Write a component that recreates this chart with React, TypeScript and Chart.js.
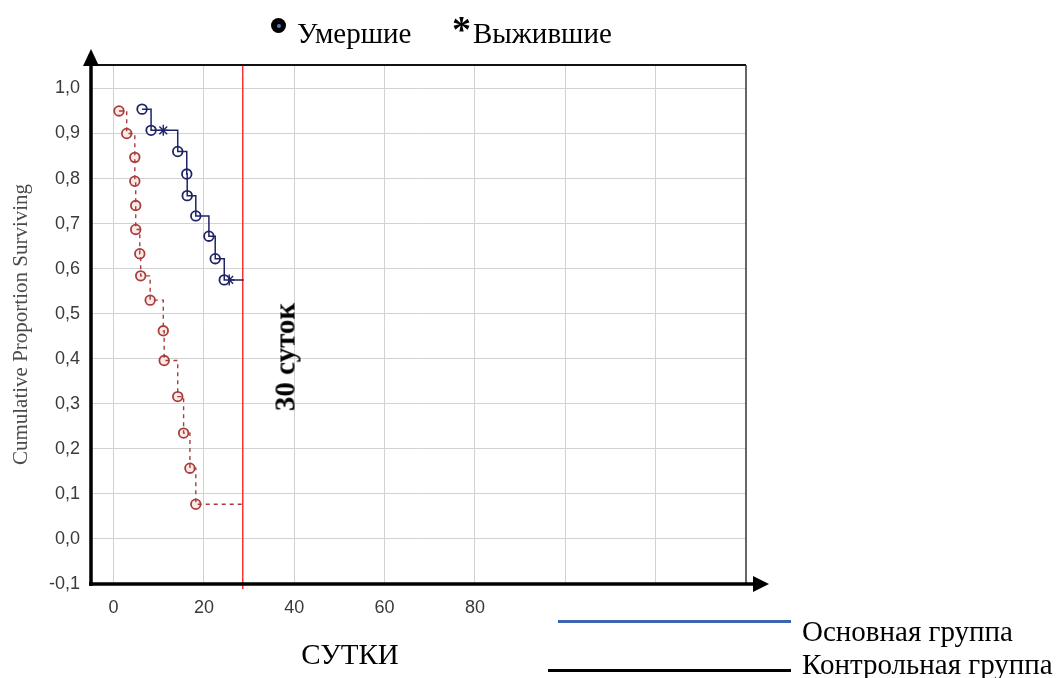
import React, { useEffect, useRef } from "react";
import { Chart, registerables } from "chart.js";

Chart.register(...registerables);

// ---- data ----
const mainDeathDays = [6.3, 8.3, 14.2, 16.2, 16.3, 18.2, 21.1, 22.5, 24.5];
const mainDeathSurvival = [0.954, 0.907, 0.86, 0.81, 0.762, 0.717, 0.672, 0.622, 0.575];
const mainCensorDays = [11.0, 25.6];
const mainCensorSurvival = [0.907, 0.575];

const controlDeathDays = [1.2, 2.9, 4.7, 4.7, 4.9, 4.9, 5.8, 6.0, 8.1, 11.0, 11.2, 14.2, 15.5, 16.9, 18.2];
const controlDeathSurvival = [0.95, 0.9, 0.847, 0.794, 0.74, 0.687, 0.633, 0.584, 0.53, 0.462, 0.396, 0.316, 0.235, 0.157, 0.077];

const followUpEndDay = 28.8;
const cutoffDay = 28.6;

const xTickValues = [0, 20, 40, 60, 80, 100, 120];
const xTickLabels = ["0", "20", "40", "60", "80", "", ""];
const yTickValues = [-0.1, 0, 0.1, 0.2, 0.3, 0.4, 0.5, 0.6, 0.7, 0.8, 0.9, 1.0];
const yTickLabels = ["-0,1", "0,0", "0,1", "0,2", "0,3", "0,4", "0,5", "0,6", "0,7", "0,8", "0,9", "1,0"];

const xMin = -5;
const xMax = 140;
const yMin = -0.1;
const yMax = 1.052;

const NAVY = "#1f2466";
const BROWN = "#a63f3b";

function pts(xs: number[], ys: number[]) {
  return xs.map((x, i) => ({ x, y: ys[i] }));
}

function pathWithEnd(xs: number[], ys: number[], end: number) {
  const p = pts(xs, ys);
  p.push({ x: end, y: ys[ys.length - 1] });
  return p;
}

const framePlugin = {
  id: "kmFrame",
  beforeDatasetsDraw(chart: any) {
    const { ctx, chartArea: a, scales } = chart;
    const x = scales.x.getPixelForValue(cutoffDay);
    ctx.save();
    ctx.strokeStyle = "#ff1414";
    ctx.lineWidth = 1.3;
    ctx.beginPath();
    ctx.moveTo(x, a.top);
    ctx.lineTo(x, a.bottom + 5);
    ctx.stroke();
    ctx.restore();
  },
  afterDraw(chart: any) {
    const { ctx, chartArea: a } = chart;
    ctx.save();
    // top frame
    ctx.strokeStyle = "#111";
    ctx.lineWidth = 2;
    ctx.beginPath();
    ctx.moveTo(a.left, a.top);
    ctx.lineTo(a.right, a.top);
    ctx.stroke();
    // right frame
    ctx.strokeStyle = "#333";
    ctx.lineWidth = 1.5;
    ctx.beginPath();
    ctx.moveTo(a.right, a.top);
    ctx.lineTo(a.right, a.bottom);
    ctx.stroke();
    // x axis with arrow
    ctx.strokeStyle = "#000";
    ctx.fillStyle = "#000";
    ctx.lineWidth = 3.5;
    ctx.beginPath();
    ctx.moveTo(a.left - 2, a.bottom);
    ctx.lineTo(a.right + 8, a.bottom);
    ctx.stroke();
    ctx.beginPath();
    ctx.moveTo(a.right + 7, a.bottom - 8);
    ctx.lineTo(a.right + 23, a.bottom);
    ctx.lineTo(a.right + 7, a.bottom + 8);
    ctx.closePath();
    ctx.fill();
    // y axis with arrow
    ctx.beginPath();
    ctx.moveTo(a.left, a.bottom + 2);
    ctx.lineTo(a.left, a.top + 1);
    ctx.stroke();
    ctx.beginPath();
    ctx.moveTo(a.left - 8, a.top + 1);
    ctx.lineTo(a.left, a.top - 16);
    ctx.lineTo(a.left + 8, a.top + 1);
    ctx.closePath();
    ctx.fill();
    ctx.restore();
  },
};

function KMChart() {
  const ref = useRef<HTMLCanvasElement | null>(null);
  useEffect(() => {
    if (!ref.current) return;
    const chart = new Chart(ref.current, {
      type: "line",
      data: {
        datasets: [
          {
            label: "Основная группа",
            data: pathWithEnd(mainDeathDays, mainDeathSurvival, followUpEndDay),
            borderColor: NAVY,
            borderWidth: 1.5,
            stepped: "before",
            pointRadius: 0,
            fill: false,
          },
          {
            label: "Основная — умершие",
            data: pts(mainDeathDays, mainDeathSurvival),
            showLine: false,
            pointStyle: "circle",
            pointRadius: 4.8,
            pointBorderWidth: 1.8,
            pointBorderColor: NAVY,
            pointBackgroundColor: "#ffffff",
          },
          {
            label: "Основная — выжившие",
            data: pts(mainCensorDays, mainCensorSurvival),
            showLine: false,
            pointStyle: "star",
            pointRadius: 5.5,
            pointBorderWidth: 1.4,
            pointBorderColor: NAVY,
            pointBackgroundColor: NAVY,
          },
          {
            label: "Контрольная группа",
            data: pathWithEnd(controlDeathDays, controlDeathSurvival, followUpEndDay),
            borderColor: BROWN,
            borderWidth: 1.4,
            borderDash: [4, 4],
            stepped: "before",
            pointRadius: 0,
            fill: false,
          },
          {
            label: "Контрольная — умершие",
            data: pts(controlDeathDays, controlDeathSurvival),
            showLine: false,
            pointStyle: "circle",
            pointRadius: 4.8,
            pointBorderWidth: 1.8,
            pointBorderColor: BROWN,
            pointBackgroundColor: "#fbe9e8",
          },
        ],
      },
      options: {
        responsive: false,
        animation: false,
        devicePixelRatio: 1,
        layout: { padding: { left: 0, top: 65, right: 315, bottom: 0 } },
        plugins: { legend: { display: false }, tooltip: { enabled: false } },
        scales: {
          x: {
            type: "linear",
            min: xMin,
            max: xMax,
            afterBuildTicks: (s: any) => {
              s.ticks = xTickValues.map((v) => ({ value: v }));
            },
            afterFit: (s: any) => {
              s.height = 94;
            },
            grid: { color: "#d2d2d2", lineWidth: 1, drawTicks: false },
            border: { display: false },
            ticks: {
              padding: 13,
              maxRotation: 0,
              autoSkip: false,
              color: "#3a3a3a",
              font: { family: "'Liberation Sans', Arial, sans-serif", size: 18 },
              callback: (v: any) => {
                const i = xTickValues.indexOf(Number(v));
                return i >= 0 ? xTickLabels[i] : "";
              },
            },
          },
          y: {
            type: "linear",
            min: yMin,
            max: yMax,
            afterBuildTicks: (s: any) => {
              s.ticks = yTickValues.map((v) => ({ value: v }));
            },
            afterFit: (s: any) => {
              s.width = 91;
            },
            grid: { color: "#d2d2d2", lineWidth: 1, drawTicks: false },
            border: { display: false },
            title: {
              display: true,
              text: "Cumulative Proportion Surviving",
              color: "#4a4a4a",
              font: { family: "'Liberation Serif', 'Times New Roman', serif", size: 21 },
              padding: { top: 9, bottom: 0 },
            },
            ticks: {
              padding: 11,
              autoSkip: false,
              color: "#3a3a3a",
              font: { family: "'Liberation Sans', Arial, sans-serif", size: 18 },
              callback: (v: any) => {
                const i = yTickValues.findIndex((t) => Math.abs(t - Number(v)) < 1e-6);
                return i >= 0 ? yTickLabels[i] : "";
              },
            },
          },
        },
      },
      plugins: [framePlugin],
    } as any);
    return () => chart.destroy();
  }, []);
  return <canvas ref={ref} width={1061} height={678} style={{ position: "absolute", left: 0, top: 0 }} />;
}

const serif = "'Liberation Serif', 'Times New Roman', serif";

export default function App() {
  const txt = (extra: React.CSSProperties): React.CSSProperties => ({
    position: "absolute",
    fontFamily: serif,
    fontSize: 29,
    lineHeight: "29px",
    color: "#000",
    whiteSpace: "nowrap",
    ...extra,
  });
  return (
    <div style={{ position: "fixed", left: 0, top: 0, width: 1061, height: 678, background: "#fff", overflow: "hidden" }}>
      <KMChart />
      {/* top legend */}
      <div
        style={{
          position: "absolute",
          left: 271,
          top: 18,
          width: 15,
          height: 15,
          borderRadius: "50%",
          background: "#000",
        }}
      >
        <div style={{ position: "absolute", left: 5.5, top: 5.5, width: 4, height: 4, borderRadius: "50%", background: "#4a7fc0" }} />
      </div>
      <div style={txt({ left: 297, top: 19 })}>Умершие</div>
      <div style={txt({ left: 452, top: 10, fontWeight: "bold", fontSize: 38, lineHeight: "38px" })}>*</div>
      <div style={txt({ left: 473, top: 19 })}>Выжившие</div>
      {/* rotated annotation */}
      <div
        style={txt({
          left: 285,
          top: 357,
          fontWeight: "bold",
          fontSize: 29,
          lineHeight: "29px",
          transform: "translate(-50%, -50%) rotate(-90deg)",
        })}
      >
        30 суток
      </div>
      {/* x axis title */}
      <div style={txt({ left: 350, top: 640, transform: "translateX(-50%)" })}>СУТКИ</div>
      {/* group legend */}
      <div style={{ position: "absolute", left: 558, top: 620, width: 233, height: 2.5, background: "#3d65ad" }} />
      <div style={{ position: "absolute", left: 548, top: 669, width: 243, height: 3, background: "#000" }} />
      <div style={txt({ left: 802, top: 617 })}>Основная группа</div>
      <div style={txt({ left: 802, top: 650 })}>Контрольная группа</div>
    </div>
  );
}
